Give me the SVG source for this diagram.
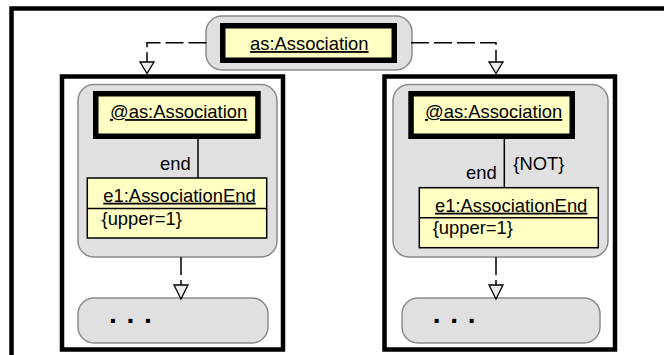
<svg xmlns="http://www.w3.org/2000/svg" width="664" height="355" viewBox="0 0 664 355">
  <style>
    .frame { fill: #ffffff; stroke: #000000; stroke-width: 4.5; }
    .pattern { fill: #e0e0e0; stroke: #8a8a8a; stroke-width: 1.5; }
    .focus { fill: #ffffc4; stroke: #000000; stroke-width: 5.5; }
    .obj { fill: #ffffc4; stroke: #000000; stroke-width: 1.5; }
    .sep { stroke: #000000; stroke-width: 1.5; }
    .lbl { font-family: "Liberation Sans", Arial, sans-serif; font-size: 18.4px; fill: #000000; }
    .u { text-decoration: underline; }
    .dots { font-family: "Liberation Sans", Arial, sans-serif; font-size: 28px; font-weight: bold; letter-spacing: 0.97px; fill: #000000; }
    .link { fill: none; stroke: #000000; stroke-width: 1.5; }
    .dash { fill: none; stroke: #000000; stroke-width: 1.5; stroke-dasharray: 18 5; }
    .head { fill: #ececec; stroke: #000000; stroke-width: 1.3; }
  </style>

  <!-- outer frame, running past the right and bottom edges -->
  <rect class="frame" x="11.5" y="8.5" width="700" height="400"/>

  <!-- left and right variant frames -->
  <rect class="frame" x="62" y="76.5" width="221" height="273"/>
  <rect class="frame" x="384.5" y="76.5" width="230.5" height="273"/>

  <!-- root pattern node -->
  <g id="root">
    <rect class="pattern" x="206" y="16" width="206" height="54" rx="16"/>
    <rect class="focus" x="222.75" y="25.75" width="171.5" height="34.5"/>
    <text class="lbl u" x="250" y="50">as:Association</text>
  </g>

  <!-- left variant: association with an end of upper=1 -->
  <g id="left-pattern">
    <rect class="pattern" x="78" y="84.5" width="199" height="172.5" rx="16"/>
  </g>
  <g id="left-assoc">
    <rect class="focus" x="95.75" y="93.75" width="162.2" height="42.5"/>
    <text class="lbl u" x="110" y="118">@as:Association</text>
  </g>
  <g id="left-end">
    <rect class="obj" x="87.3" y="178" width="179.4" height="60"/>
    <line class="sep" x1="87.3" y1="208.5" x2="266.7" y2="208.5"/>
    <text class="lbl u" x="103.3" y="201.7">e1:AssociationEnd</text>
    <text class="lbl" x="101.5" y="224.5">{upper=1}</text>
  </g>
  <g id="left-rest">
    <rect class="pattern" x="78" y="298" width="190" height="45" rx="16"/>
    <text class="dots" x="109.1" y="323">. . .</text>
  </g>

  <!-- right variant: association with NO end of upper=1 -->
  <g id="right-pattern">
    <rect class="pattern" x="393" y="84.5" width="215" height="172.5" rx="16"/>
  </g>
  <g id="right-assoc">
    <rect class="focus" x="411.05" y="93.75" width="161.2" height="42.5"/>
    <text class="lbl u" x="425" y="118">@as:Association</text>
  </g>
  <g id="right-end">
    <rect class="obj" x="419.3" y="187.7" width="179" height="60"/>
    <line class="sep" x1="419.3" y1="217.7" x2="598.3" y2="217.7"/>
    <text class="lbl u" x="435" y="211.7">e1:AssociationEnd</text>
    <text class="lbl" x="432.7" y="233.7">{upper=1}</text>
  </g>
  <g id="right-rest">
    <rect class="pattern" x="402" y="298" width="198" height="45" rx="16"/>
    <text class="dots" x="432.8" y="323">. . .</text>
  </g>

  <!-- connectors -->
  <g id="connectors">
    <!-- root to variants -->
    <path class="dash" d="M206.5,42.7 H147 V62"/>
    <polygon class="head" points="140,62 154,62 147,73.5"/>
    <path class="dash" d="M411,42.7 H496 V62"/>
    <polygon class="head" points="489,62 503,62 496,73.5"/>

    <!-- association end links -->
    <line class="link" x1="198" y1="139" x2="198" y2="178"/>
    <text class="lbl" x="190.7" y="170" text-anchor="end">end</text>
    <line class="link" x1="504.3" y1="139" x2="504.3" y2="187.7"/>
    <text class="lbl" x="496.7" y="178.5" text-anchor="end">end</text>
    <text class="lbl" x="513.3" y="170.3">{NOT}</text>

    <!-- pattern to continuation -->
    <path class="dash" d="M181,257 V285"/>
    <polygon class="head" points="174,285 188,285 181,299"/>
    <path class="dash" d="M496,257 V285"/>
    <polygon class="head" points="489,285 503,285 496,299"/>
  </g>
</svg>
